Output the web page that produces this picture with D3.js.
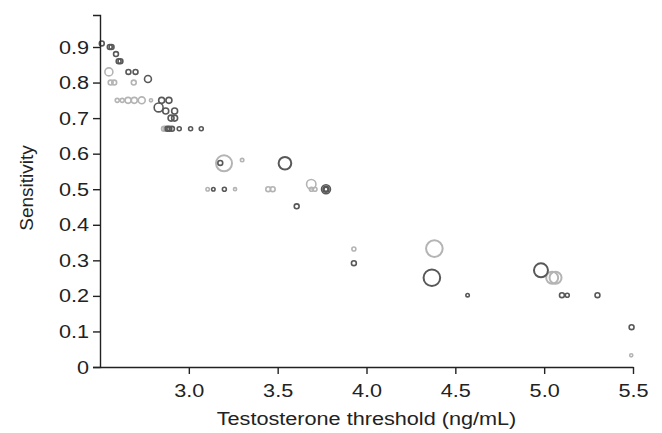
<!DOCTYPE html>
<html>
<head>
<meta charset="utf-8">
<script src="https://cdn.jsdelivr.net/npm/d3@7"></script>
<style>
  html, body { margin: 0; padding: 0; background: #fff; }
  svg text { font-family: "Liberation Sans", Arial, sans-serif; fill: #222; }
</style>
</head>
<body>
<svg id="chart" width="662" height="433"></svg>
<script>
// ─── Data ────────────────────────────────────────────────────
// light grey study series: threshold, sensitivity, weight
const lightX = [2.55, 2.56, 2.58, 2.69, 2.597, 2.625, 2.658, 2.693, 2.735, 2.787,
                2.86, 2.87, 3.198, 3.30, 3.106, 3.26, 3.447, 3.472, 3.689, 3.69, 3.71,
                3.929, 4.382, 5.045, 5.064, 5.49];
const lightY = [0.83, 0.80, 0.80, 0.80, 0.75, 0.75, 0.75, 0.75, 0.75, 0.75,
                0.67, 0.67, 0.573, 0.582, 0.50, 0.50, 0.50, 0.50, 0.514, 0.50, 0.50,
                0.332, 0.333, 0.251, 0.251, 0.033];
const lightW = [16, 6, 6, 6, 4, 4, 9, 9, 12, 2.5,
                6, 6, 64, 3, 3, 2.5, 6, 6, 22, 4, 4,
                4, 69, 36, 36, 2.5];

// dark grey study series
const darkX = [2.51, 2.555, 2.565, 2.59, 2.605, 2.615, 2.66, 2.70, 2.77, 2.847, 2.888,
               2.83, 2.87, 2.92, 2.90, 2.92, 2.88, 2.89, 2.905, 2.946, 3.01, 3.07,
               3.177, 3.541, 3.138, 3.20, 3.772, 3.772, 3.772, 3.607, 3.929, 4.368,
               4.569, 4.982, 5.10, 5.13, 5.30, 5.492];
const darkY = [0.91, 0.90, 0.90, 0.88, 0.86, 0.86, 0.83, 0.83, 0.81, 0.75, 0.75,
               0.73, 0.72, 0.72, 0.70, 0.70, 0.67, 0.67, 0.67, 0.67, 0.67, 0.67,
               0.574, 0.573, 0.50, 0.50, 0.50, 0.50, 0.50, 0.452, 0.292, 0.251,
               0.202, 0.272, 0.202, 0.202, 0.202, 0.112];
const darkW = [6, 6, 6, 6, 6, 6, 6, 6, 12, 9, 9,
               20, 9, 9, 9, 9, 6, 6, 6, 4, 4, 4,
               6, 40, 3, 4, 20, 9, 4, 6, 6, 69,
               3, 49, 6, 4, 6, 6];

const xTicks = [3.0, 3.5, 4.0, 4.5, 5.0, 5.5];
const yTicks = [0, 0.1, 0.2, 0.3, 0.4, 0.5, 0.6, 0.7, 0.8, 0.9];

// ─── Layout ──────────────────────────────────────────────────
const svg = d3.select('#chart');
const plotL = 100, plotR = 633, plotT = 15, plotB = 367;
const stretch = 1.14;   // the source figure's text is a bit wide

const x = d3.scaleLinear().domain([2.5, 5.5]).range([plotL, plotR]);
const y = d3.scaleLinear().domain([0, 0.99]).range([plotB, plotT]);
const r = d3.scaleSqrt().domain([0, 64]).range([0, 8]);

const series = [
    { xs: lightX, ys: lightY, ws: lightW, color: '#b4b4b4' },
    { xs: darkX, ys: darkY, ws: darkW, color: '#585858' },
];

// points
series.forEach(s => {
    const pts = s.xs.map((v, i) => ({ x: v, y: s.ys[i], w: s.ws[i] }));
    svg.append('g')
        .selectAll('circle')
        .data(pts)
        .enter()
        .append('circle')
        .attr('cx', d => x(d.x))
        .attr('cy', d => y(d.y))
        .attr('r', d => r(d.w))
        .attr('fill', 'none')
        .attr('stroke', s.color)
        .attr('stroke-width', d => d.w > 30 ? 2 : 1.6);
});

// axes
const xAxis = d3.axisBottom(x)
    .tickValues(xTicks)
    .tickFormat(d3.format('.1f'))
    .tickSize(7)
    .tickSizeOuter(0)
    .tickPadding(10);

const yAxis = d3.axisLeft(y)
    .tickValues(yTicks)
    .tickFormat(d => d === 0 ? '0' : d3.format('.1f')(d))
    .tickSize(7)
    .tickSizeOuter(7)
    .tickPadding(5);

const gx = svg.append('g').attr('transform', `translate(0,${plotB})`).call(xAxis);
const gy = svg.append('g').attr('transform', `translate(${plotL},0)`).call(yAxis);

gx.selectAll('text').attr('transform', `scale(${stretch},1)`);
gy.selectAll('text')
    .attr('x', -11 / stretch)
    .attr('transform', `scale(${stretch},1)`);

[gx, gy].forEach(g => {
    g.selectAll('path, line').attr('stroke', '#222').attr('stroke-width', 1.4);
    g.selectAll('text').attr('font-size', '19px').attr('fill', '#222');
});

// axis titles
svg.append('g')
    .attr('transform', `translate(${(plotL + plotR) / 2},425) scale(${stretch},1)`)
    .append('text')
    .attr('text-anchor', 'middle').attr('font-size', '19px')
    .text('Testosterone threshold (ng/mL)');

svg.append('text')
    .attr('transform', 'rotate(-90)')
    .attr('x', -188).attr('y', 33)
    .attr('text-anchor', 'middle').attr('font-size', '19px')
    .text('Sensitivity');
</script>
</body>
</html>
